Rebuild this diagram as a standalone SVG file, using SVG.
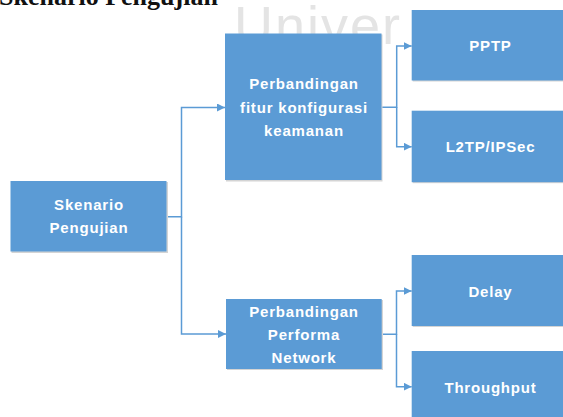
<svg xmlns="http://www.w3.org/2000/svg" width="563" height="417" viewBox="0 0 563 417">
  <defs>
    <marker id="arr" markerUnits="userSpaceOnUse" markerWidth="9" markerHeight="9" refX="8" refY="4" orient="auto">
      <path d="M0,0 L8,4 L0,8 z" fill="#5B9BD5"/>
    </marker>
  </defs>
  <style>
    .box { fill: #5B9BD5; }
    .shadow { fill: #d4d4d4; }
    .lbl { font-family: "Liberation Sans", Arial, sans-serif; font-weight: bold; font-size: 15px; fill: #ffffff; text-anchor: middle; letter-spacing: 0.8px; }
    .conn { fill: none; stroke: #5B9BD5; stroke-width: 1.5; }
  </style>
  <rect width="563" height="417" fill="#ffffff"/>
  <text x="234" y="44" font-family="Liberation Sans, Arial, sans-serif" font-size="54" letter-spacing="2" fill="#e4e4e4">Univer</text>
  <text x="-1" y="5" font-family="Liberation Serif, Times New Roman, serif" font-weight="bold" font-size="26" fill="#111111">Skenario Pengujian</text>

  <g id="connectors">
    <path class="conn" d="M166.7 216.7 H181.5 V107.5 H225" marker-end="url(#arr)"/>
    <path class="conn" d="M181.5 216.7 V334 H226" marker-end="url(#arr)"/>
    <path class="conn" d="M381.7 107.3 H396.7 V46 H411.7" marker-end="url(#arr)"/>
    <path class="conn" d="M396.7 107.3 V146.7 H411.7" marker-end="url(#arr)"/>
    <path class="conn" d="M381.7 334.3 H396.5 V291 H411.7" marker-end="url(#arr)"/>
    <path class="conn" d="M396.5 334.3 V386.7 H411.7" marker-end="url(#arr)"/>
  </g>

  <g id="skenario">
    <rect class="shadow" x="11.5" y="182" width="156.5" height="71"/>
    <rect class="box" x="10.5" y="181" width="156" height="70.5"/>
    <text class="lbl" x="89" y="210">Skenario</text>
    <text class="lbl" x="89" y="233">Pengujian</text>
  </g>

  <g id="fitur">
    <rect class="shadow" x="226" y="34.5" width="156.5" height="147"/>
    <rect class="box" x="225" y="33.5" width="156.5" height="146.5"/>
    <text class="lbl" x="304" y="89">Perbandingan</text>
    <text class="lbl" x="304" y="112.5">fitur konfigurasi</text>
    <text class="lbl" x="304" y="136">keamanan</text>
  </g>

  <g id="performa">
    <rect class="shadow" x="227" y="300" width="156" height="70"/>
    <rect class="box" x="226" y="299" width="155.7" height="70"/>
    <text class="lbl" x="304" y="317">Perbandingan</text>
    <text class="lbl" x="304" y="340">Performa</text>
    <text class="lbl" x="304" y="363">Network</text>
  </g>

  <g id="pptp">
    <rect class="shadow" x="412.7" y="11" width="160" height="70.5"/>
    <rect class="box" x="411.7" y="10" width="160" height="70.5"/>
    <text class="lbl" x="490.5" y="50.5">PPTP</text>
  </g>

  <g id="l2tp">
    <rect class="shadow" x="412.7" y="111.7" width="160" height="71.5"/>
    <rect class="box" x="411.7" y="110.7" width="160" height="71.5"/>
    <text class="lbl" x="490.5" y="152">L2TP/IPSec</text>
  </g>

  <g id="delay">
    <rect class="shadow" x="412.7" y="256" width="160" height="71"/>
    <rect class="box" x="411.7" y="255" width="160" height="71"/>
    <text class="lbl" x="490.5" y="297">Delay</text>
  </g>

  <g id="throughput">
    <rect class="shadow" x="412.7" y="352" width="160" height="80"/>
    <rect class="box" x="411.7" y="351" width="160" height="80"/>
    <text class="lbl" x="490.5" y="392.5">Throughput</text>
  </g>
</svg>
